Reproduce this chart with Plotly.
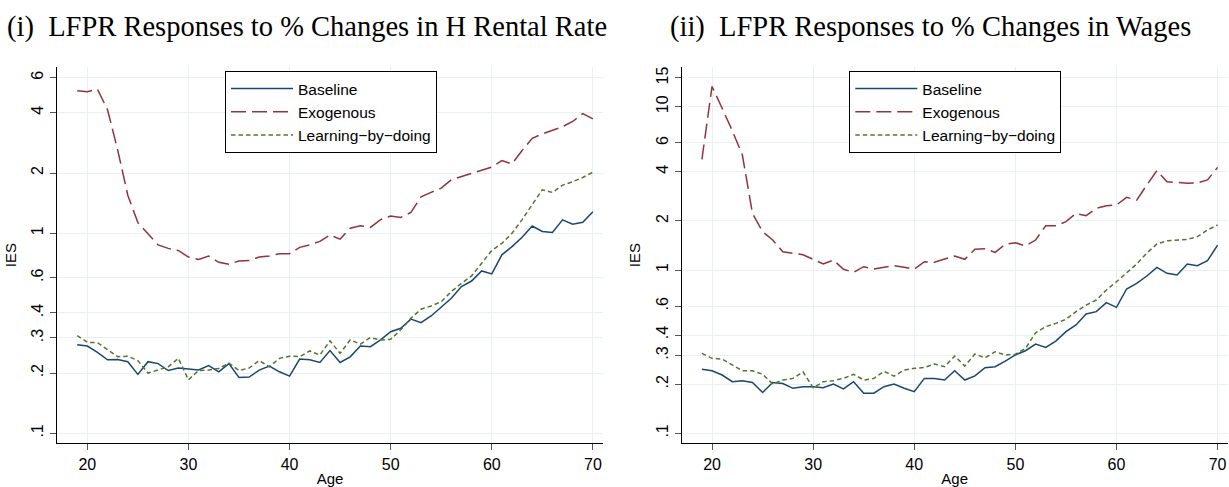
import plotly.graph_objects as go
from plotly.subplots import make_subplots

# ages on the x axis
ages = list(range(19, 71))

# panel (i): responses to % changes in H rental rate
rent_baseline = [0.277, 0.273, 0.254, 0.233, 0.234, 0.228, 0.197, 0.228, 0.223, 0.206, 0.212, 0.210,
                 0.2075, 0.218, 0.203, 0.223, 0.190, 0.191, 0.207, 0.217, 0.203, 0.193,
                 0.235, 0.233, 0.226, 0.259, 0.226, 0.241, 0.273, 0.271, 0.293, 0.322,
                 0.335, 0.372, 0.357, 0.386, 0.427, 0.473, 0.541, 0.577, 0.648, 0.626,
                 0.78, 0.857, 0.955, 1.087, 1.02, 1.01, 1.166, 1.11, 1.135, 1.28]
rent_exog = [5.16, 5.1, 5.25, 4.14, 2.61, 1.55, 1.13, 1.0, 0.875, 0.84, 0.82, 0.76,
             0.74, 0.77, 0.716, 0.70, 0.727, 0.73, 0.76, 0.77, 0.79, 0.79,
             0.85, 0.875, 0.91, 0.98, 0.935, 1.06, 1.09, 1.07, 1.17, 1.22,
             1.20, 1.27, 1.52, 1.60, 1.68, 1.85, 1.92, 2.0, 2.07, 2.14,
             2.31, 2.22, 2.59, 2.98, 3.14, 3.28, 3.41, 3.62, 3.96, 3.73]
rent_lbd = [0.308, 0.285, 0.284, 0.261, 0.2415, 0.243, 0.231, 0.200, 0.207, 0.215, 0.237, 0.185,
            0.206, 0.207, 0.211, 0.224, 0.206, 0.212, 0.231, 0.215, 0.237, 0.243,
            0.2415, 0.258, 0.246, 0.29, 0.251, 0.293, 0.279, 0.301, 0.293, 0.295,
            0.329, 0.376, 0.417, 0.433, 0.455, 0.511, 0.562, 0.612, 0.708, 0.82,
            0.89, 1.0, 1.17, 1.39, 1.65, 1.6, 1.74, 1.81, 1.9, 2.02]

# panel (ii): responses to % changes in wages
wage_baseline = [0.2465, 0.2417, 0.2275, 0.207, 0.21, 0.205, 0.178, 0.205, 0.202, 0.1886, 0.193, 0.193,
                 0.19, 0.2005, 0.187, 0.207, 0.176, 0.176, 0.193, 0.2005, 0.189, 0.18,
                 0.217, 0.217, 0.212, 0.2417, 0.212, 0.225, 0.2525, 0.256, 0.277, 0.302,
                 0.3205, 0.352, 0.336, 0.367, 0.419, 0.461, 0.538, 0.556, 0.631, 0.591,
                 0.765, 0.829, 0.919, 1.038, 0.954, 0.932, 1.088, 1.063, 1.14, 1.42]
wage_exog = [4.76, 13.3, 9.78, 7.13, 5.06, 2.22, 1.716, 1.526, 1.295, 1.265, 1.24, 1.163,
             1.088, 1.15, 1.01, 0.968, 1.048, 1.015, 1.04, 1.063, 1.04, 1.01,
             1.124, 1.115, 1.168, 1.218, 1.163, 1.34, 1.35, 1.283, 1.436, 1.47,
             1.403, 1.526, 1.867, 1.867, 1.976, 2.22, 2.15, 2.39, 2.476, 2.5,
             2.787, 2.68, 3.315, 4.06, 3.47, 3.44, 3.4, 3.42, 3.56, 4.25]
wage_lbd = [0.309, 0.288, 0.285, 0.262, 0.2417, 0.2417, 0.23, 0.2005, 0.212, 0.217, 0.238, 0.19,
            0.207, 0.21, 0.217, 0.23, 0.212, 0.217, 0.24, 0.224, 0.244, 0.25,
            0.253, 0.266, 0.256, 0.2975, 0.258, 0.306, 0.29, 0.316, 0.302, 0.305,
            0.331, 0.413, 0.45, 0.4715, 0.499, 0.556, 0.61, 0.655, 0.754, 0.848,
            0.954, 1.088, 1.27, 1.443, 1.51, 1.526, 1.54, 1.6, 1.758, 1.887]

series_names = ["Baseline", "Exogenous", "Learning\u2212by\u2212doing"]
panel_titles = ["(i)  LFPR Responses to % Changes in H Rental Rate",
                "(ii)  LFPR Responses to % Changes in Wages"]

x_ticks = [20, 30, 40, 50, 60, 70]
y_ticks_left = [0.1, 0.2, 0.3, 0.4, 0.6, 1, 2, 4, 6]
y_text_left = [".1", ".2", ".3", ".4", ".6", "1", "2", "4", "6"]
y_ticks_right = [0.1, 0.2, 0.3, 0.4, 0.6, 1, 2, 4, 6, 10, 15]
y_text_right = [".1", ".2", ".3", ".4", ".6", "1", "2", "4", "6", "10", "15"]

colors = ["#1a476f", "#90353b", "#55752f"]
dashes = ["solid", "15px,6px", "4.5px,3px"]
sans = "Liberation Sans, Arial, sans-serif"

fig = make_subplots(rows=1, cols=2)

panels = [(rent_baseline, rent_exog, rent_lbd), (wage_baseline, wage_exog, wage_lbd)]
for col, data in enumerate(panels, start=1):
    for name, vals, c, d in zip(series_names, data, colors, dashes):
        fig.add_trace(go.Scatter(x=ages, y=vals, mode="lines", name=name,
                                 line=dict(color=c, width=1.5, dash=d),
                                 legend="legend" if col == 1 else "legend2"),
                      row=1, col=col)

# body margin is removed in the page (see post_script), so the figure fills the window
W, H = 1229, 487


def px_x(p):
    return p / W


def px_y(p):
    return 1 - p / H


ydom = [px_y(443.3), px_y(67)]

axis_common = dict(showline=True, linecolor="black", linewidth=1.3, mirror=False,
                   gridcolor="#e8f0f2", gridwidth=1.3, ticks="outside", ticklen=6,
                   tickcolor="#555555", tickwidth=1, zeroline=False, automargin=False,
                   ticklabeloverflow="allow",
                   tickfont=dict(family=sans, size=16, color="black"))

fig.update_xaxes(axis_common)
fig.update_yaxes(axis_common)

title_font = dict(family=sans, size=15, color="black")
legend_common = dict(yanchor="top", xanchor="left", bordercolor="black", borderwidth=1,
                     bgcolor="white", font=dict(family=sans, size=15.5, color="black"),
                     itemwidth=62)

fig.update_layout(
    xaxis=dict(domain=[px_x(57), px_x(603)], range=[17, 71], tickvals=x_ticks,
               title=dict(text="Age", font=title_font, standoff=3)),
    xaxis2=dict(domain=[px_x(681.7), px_x(1227.7)], range=[17, 71], tickvals=x_ticks,
                title=dict(text="Age", font=title_font, standoff=3)),
    yaxis=dict(domain=ydom, type="log", range=[-1.05, 0.831], tickvals=y_ticks_left,
               ticktext=y_text_left, tickangle=-90,
               title=dict(text="IES", font=title_font, standoff=9)),
    yaxis2=dict(domain=ydom, type="log", range=[-1.061, 1.243], tickvals=y_ticks_right,
                ticktext=y_text_right, tickangle=-90,
                title=dict(text="IES", font=title_font, standoff=9)),
    legend=dict(legend_common, x=px_x(225), y=px_y(71)),
    legend2=dict(legend_common, x=px_x(849.3), y=px_y(71)),
    width=W, height=H, autosize=False,
    margin=dict(l=0, r=0, t=0, b=0, autoexpand=False),
    paper_bgcolor="white", plot_bgcolor="white",
)

for t, xpos in zip(panel_titles, [5, 668]):
    fig.add_annotation(text=t, x=px_x(xpos), y=px_y(27), xref="paper", yref="paper",
                       xanchor="left", yanchor="middle", showarrow=False,
                       font=dict(family="Liberation Serif, Times New Roman, serif", size=28.5,
                                 color="black"))

fig.write_html("out.html", config={"displayModeBar": False},
               post_script="document.body.style.margin='0px';document.body.style.overflow='hidden';")
